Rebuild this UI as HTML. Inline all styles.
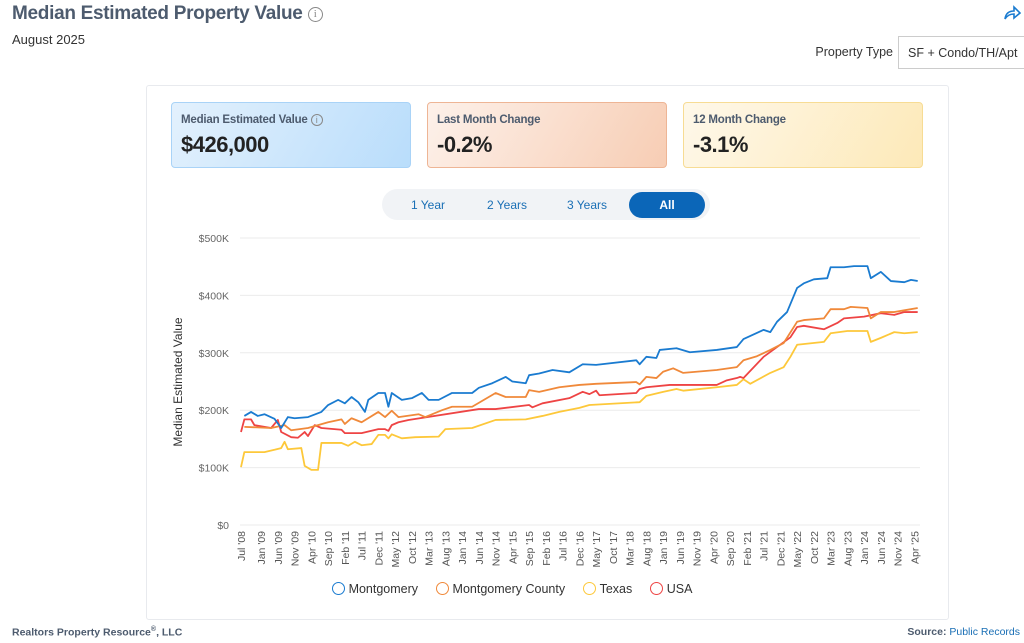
<!DOCTYPE html>
<html><head><meta charset="utf-8">
<style>
*{box-sizing:border-box;margin:0;padding:0}
body{width:1024px;height:643px;background:#fff;font-family:"Liberation Sans",sans-serif;color:#333;position:relative;overflow:hidden}
.abs{position:absolute}
#title{left:12px;top:3px;font-size:19px;font-weight:bold;color:#4d5b6e;white-space:nowrap;letter-spacing:-0.3px}
#title .i{display:inline-block;width:15px;height:15px;border:1.5px solid #888;border-radius:50%;font-size:11px;text-align:center;line-height:12px;color:#888;font-weight:normal;vertical-align:2px;margin-left:5px;font-family:"Liberation Serif",serif}
#date{left:12px;top:32px;font-size:13px;color:#333}
#ptl{right:131px;top:45px;font-size:12.5px;white-space:nowrap}
#pts{left:898px;top:36px;width:130px;height:33px;border:1px solid #ccc;font-size:12.5px;padding:9px 0 0 9px;white-space:nowrap}
#panel{left:146px;top:85px;width:803px;height:535px;border:1px solid #e8eaee;border-radius:3px}
.card{top:102px;width:240px;height:66px;border-radius:4px;padding:11px 9px}
.card .l{font-size:11.5px;font-weight:bold;color:#4d5b6e;letter-spacing:-0.2px}
.card .v{font-size:22px;font-weight:bold;color:#222;margin-top:6px;letter-spacing:-0.5px}
#btns{left:382px;top:189px;width:328px;height:31px;background:#f1f3f6;border-radius:16px}
.b{top:192px;height:26px;font-size:12px;color:#1a6fb5;text-align:center;line-height:26px;border-radius:13px}
#legend{left:0;top:582px;width:1024px;text-align:center;font-size:12.5px;color:#333}
.lg{display:inline-block;margin:0 7px}
.lg i{display:inline-block;width:13px;height:13px;border:1.5px solid;border-radius:50%;vertical-align:-2px;margin-right:4px}
#foot1{left:12px;top:626px;font-size:10.5px;font-weight:bold;color:#4d5b6e}
#foot2{right:4px;top:626px;font-size:10.5px;font-weight:bold;color:#4d5b6e}
</style></head><body>
<div id="title" class="abs">Median Estimated Property Value<span class="i">i</span></div>
<svg class="abs" style="left:1003px;top:5px" width="18" height="16"><path d="M2 14 Q3 6 11 6 L11 2 L17 8 L11 13 L11 9 Q5 9 2 14Z" fill="none" stroke="#1a7bd0" stroke-width="1.6"/></svg>
<div id="date" class="abs">August 2025</div>
<div id="ptl" class="abs">Property Type</div>
<div id="pts" class="abs">SF + Condo/TH/Apt</div>
<div id="panel" class="abs"></div>
<div class="abs card" style="left:171px;background:linear-gradient(120deg,#e3f1fd,#b9ddfb);border:1px solid #a9d3f7"><div class="l">Median Estimated Value <span style="display:inline-block;width:12px;height:12px;border:1px solid #888;border-radius:50%;font-size:9px;text-align:center;line-height:10px;color:#888;font-weight:normal">i</span></div><div class="v">$426,000</div></div>
<div class="abs card" style="left:427px;background:linear-gradient(120deg,#fdf1ea,#f7cdb4);border:1px solid #eeb595"><div class="l">Last Month Change</div><div class="v">-0.2%</div></div>
<div class="abs card" style="left:683px;background:linear-gradient(120deg,#fef8ea,#fde9b8);border:1px solid #f7dc94"><div class="l">12 Month Change</div><div class="v">-3.1%</div></div>
<div id="btns" class="abs"></div>
<div class="abs b" style="left:395px;width:66px">1 Year</div>
<div class="abs b" style="left:474px;width:66px">2 Years</div>
<div class="abs b" style="left:554px;width:66px">3 Years</div>
<div class="abs b" style="left:629px;width:76px;background:#0b66b8;color:#fff;font-weight:bold">All</div>
<svg id="chart" class="abs" style="left:0;top:0" width="1024" height="643"></svg>
<div id="legend" class="abs">
<span class="lg"><i style="border-color:#1a7bd0"></i>Montgomery</span>
<span class="lg"><i style="border-color:#f0893a"></i>Montgomery County</span>
<span class="lg"><i style="border-color:#fdc83a"></i>Texas</span>
<span class="lg"><i style="border-color:#ee4444"></i>USA</span>
</div>
<div id="foot1" class="abs">Realtors Property Resource<sup style="font-size:7px">®</sup>, LLC</div>
<div id="foot2" class="abs">Source: <span style="color:#1a6fb5;font-weight:normal">Public Records</span></div>
<script>
const yTicks=[0,100,200,300,400,500];
const xLabels=["Jul '08","Jan '09","Jun '09","Nov '09","Apr '10","Sep '10","Feb '11","Jul '11","Dec '11","May '12","Oct '12","Mar '13","Aug '13","Jan '14","Jun '14","Nov '14","Apr '15","Sep '15","Feb '16","Jul '16","Dec '16","May '17","Oct '17","Mar '18","Aug '18","Jan '19","Jun '19","Nov '19","Apr '20","Sep '20","Feb '21","Jul '21","Dec '21","May '22","Oct '22","Mar '23","Aug '23","Jan '24","Jun '24","Nov '24","Apr '25"];
const xLabelMonths=[0,6,11,16,21,26,31,36,41,46,51,56,61,66,71,76,81,86,91,96,101,106,111,116,121,126,131,136,141,146,151,156,161,166,171,176,181,186,191,196,201];
const montMonths=[1,3,5,7,10,12,14,16,20,24,26,29,31,33,35,37,38,41,43,44,45,48,51,54,56,59,63,69,71,75,79,81,85,86,89,93,98,102,106,118,119,121,124,125,130,134,142,148,150,156,158,160,163,166,168,171,175,176,180,183,187,188,191,194,198,200,202];
const montVals=[190,197,190,193,185,169,188,186,188,197,209,218,212,223,214,197,218,230,230,206,230,218,221,230,218,218,230,230,239,247,258,250,247,261,264,270,266,280,279,287,280,293,291,305,308,301,305,310,324,340,336,354,371,413,421,428,430,449,449,451,451,430,441,425,423,427,425];
const countyMonths=[1,9,13,15,20,26,30,31,33,36,41,43,45,47,53,55,60,63,69,76,79,85,86,89,95,101,106,118,119,121,124,126,129,132,142,148,150,154,158,162,166,168,174,176,180,182,187,188,191,195,198,202];
const countyVals=[171,169,174,165,169,179,184,176,186,179,197,188,199,188,193,188,200,206,206,230,223,223,235,232,240,244,246,249,245,258,256,267,273,265,270,275,287,294,305,317,354,357,360,376,376,380,378,360,371,371,374,378];
const usaMonths=[0,1,3,4,9,11,12,15,17,19,20,22,24,30,31,36,41,43,44,45,47,50,71,76,86,87,90,98,102,104,106,107,118,119,121,128,142,145,148,149,150,156,160,164,166,168,174,178,180,186,191,195,198,202];
const usaVals=[162,184,184,174,169,183,162,153,152,162,155,174,169,166,160,160,167,167,164,174,179,183,202,202,209,205,212,221,232,228,234,226,230,237,240,244,244,252,256,258,256,293,310,327,345,347,341,352,360,363,369,366,371,371];
const texasMonths=[0,1,7,10,12,13,14,18,19,21,23,24,30,32,34,36,39,41,43,44,45,48,52,59,61,69,76,85,90,95,101,104,119,121,126,130,132,142,148,150,152,158,162,164,166,174,176,181,187,188,191,195,198,202];
const texasVals=[101,127,127,131,134,145,132,134,103,96,96,143,143,138,145,139,141,157,157,151,158,151,153,154,167,169,183,184,190,197,204,209,214,225,232,237,234,240,244,254,246,265,275,293,314,319,334,338,338,319,326,336,334,336];
const svg=document.getElementById('chart');
const NS='http://www.w3.org/2000/svg';
const x0=241,pxPerMonth=3.35,yBase=525,pxPerK=0.574;
function xs(m){return x0+m*pxPerMonth;}
function ys(v){return yBase-v*pxPerK;}
function mk(t,a){const e=document.createElementNS(NS,t);for(const k in a)e.setAttribute(k,a[k]);svg.appendChild(e);return e;}
yTicks.forEach(v=>{
  const g=mk('line',{x1:240,x2:920,y1:ys(v),y2:ys(v),stroke:'#ebebeb','stroke-width':1});
  
  
  const t=mk('text',{x:229,y:ys(v)+4,'text-anchor':'end','font-size':10.5,fill:'#666','font-family':'Liberation Sans, sans-serif'});
  t.textContent=v===0?'$0':'$'+v+'K';
  
  
});
xLabels.forEach((lab,i)=>{
  const x=xs(xLabelMonths[i]);
  const t=mk('text',{x:0,y:0,'text-anchor':'end','font-size':10.5,fill:'#555','font-family':'Liberation Sans, sans-serif',transform:'translate('+(x+4)+',531) rotate(-90)'});
  t.textContent=lab;
  
  
});
const yt=mk('text',{x:0,y:0,'text-anchor':'middle','font-size':12,fill:'#333','font-family':'Liberation Sans, sans-serif',transform:'translate(182,382) rotate(-90)'});
yt.textContent='Median Estimated Value';


function line(ms,vs,c,name){
  const p=mk('polyline',{points:ms.map((m,i)=>xs(m)+','+ys(vs[i])).join(' '),fill:'none',stroke:c,'stroke-width':1.8,'stroke-linejoin':'round'});
  
  
}
line(texasMonths,texasVals,'#fdc83a','series-texas');
line(usaMonths,usaVals,'#ee4444','series-usa');
line(countyMonths,countyVals,'#f0893a','series-montgomery-county');
line(montMonths,montVals,'#1a7bd0','series-montgomery');
</script>
</body></html>
